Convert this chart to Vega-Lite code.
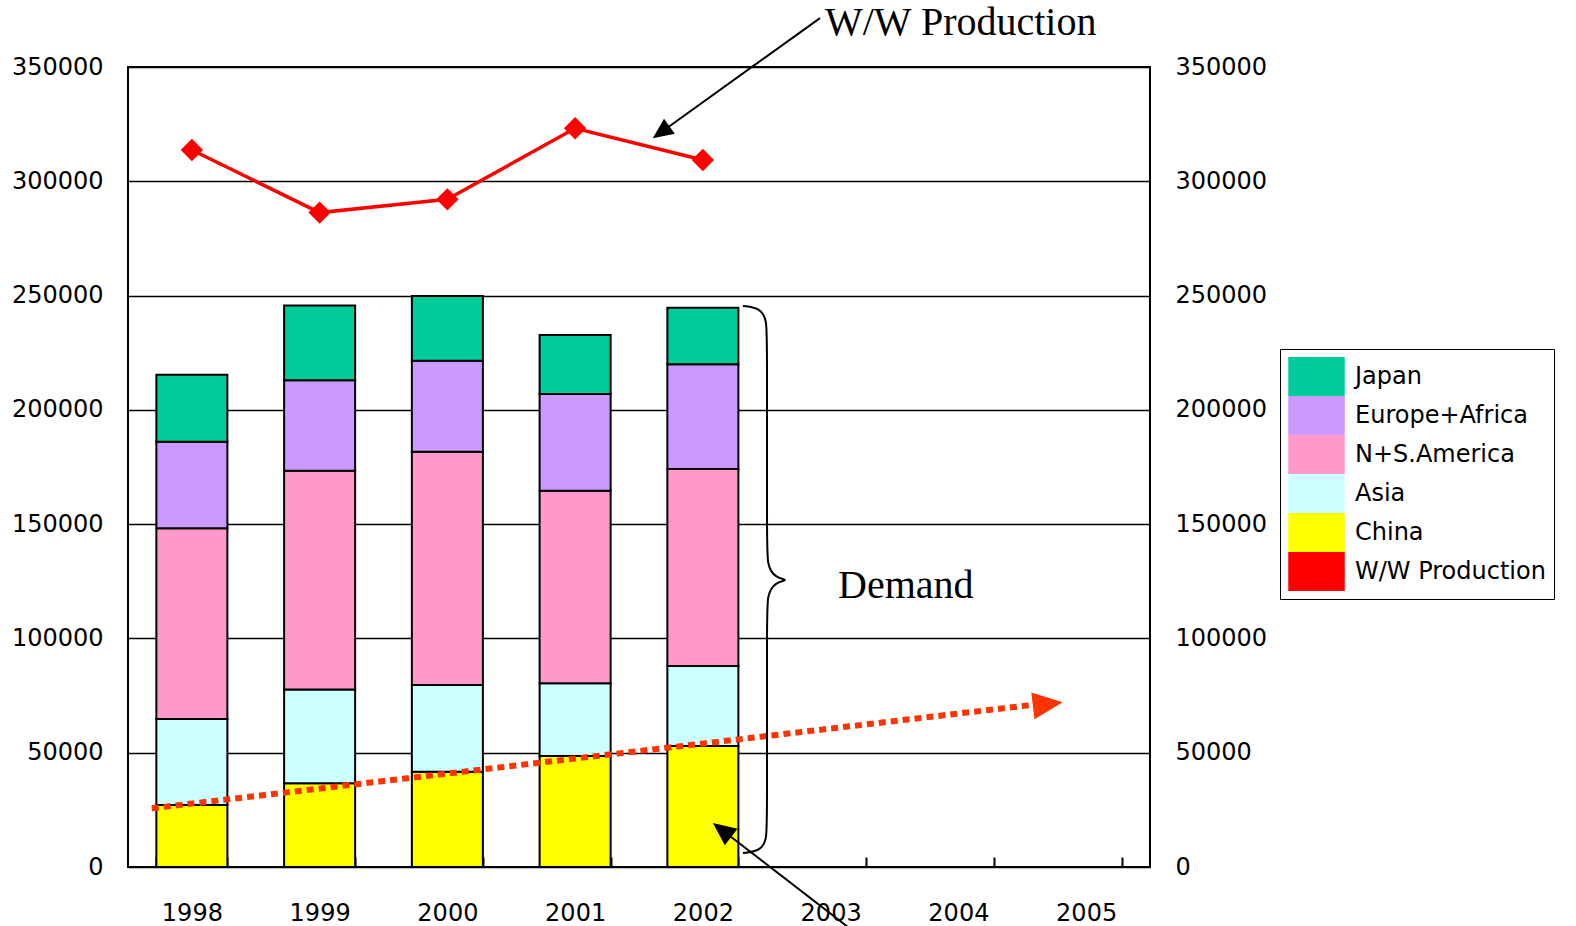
{
  "$schema": "https://vega.github.io/schema/vega-lite/v6.json",
  "width": 1022,
  "height": 800,
  "autosize": {"type": "none"},
  "padding": {"left": 128, "top": 67, "right": 426, "bottom": 59},
  "background": "white",
  "config": {
    "view": {"stroke": "#000000", "strokeWidth": 2},
    "font": "DejaVu Sans",
    "axis": {"labelFont": "DejaVu Sans", "labelFontSize": 24, "labelColor": "#000000"}
  },
  "datasets": {
    "demand": [
      {"year": "1998", "region": "China", "k": 1, "value": 27100},
      {"year": "1998", "region": "Asia", "k": 2, "value": 37700},
      {"year": "1998", "region": "N+S.America", "k": 3, "value": 83400},
      {"year": "1998", "region": "Europe+Africa", "k": 4, "value": 37900},
      {"year": "1998", "region": "Japan", "k": 5, "value": 29300},
      {"year": "1999", "region": "China", "k": 1, "value": 36600},
      {"year": "1999", "region": "Asia", "k": 2, "value": 41100},
      {"year": "1999", "region": "N+S.America", "k": 3, "value": 95700},
      {"year": "1999", "region": "Europe+Africa", "k": 4, "value": 39500},
      {"year": "1999", "region": "Japan", "k": 5, "value": 32800},
      {"year": "2000", "region": "China", "k": 1, "value": 41700},
      {"year": "2000", "region": "Asia", "k": 2, "value": 37900},
      {"year": "2000", "region": "N+S.America", "k": 3, "value": 102100},
      {"year": "2000", "region": "Europe+Africa", "k": 4, "value": 39800},
      {"year": "2000", "region": "Japan", "k": 5, "value": 28300},
      {"year": "2001", "region": "China", "k": 1, "value": 48600},
      {"year": "2001", "region": "Asia", "k": 2, "value": 31800},
      {"year": "2001", "region": "N+S.America", "k": 3, "value": 84200},
      {"year": "2001", "region": "Europe+Africa", "k": 4, "value": 42300},
      {"year": "2001", "region": "Japan", "k": 5, "value": 25900},
      {"year": "2002", "region": "China", "k": 1, "value": 52900},
      {"year": "2002", "region": "Asia", "k": 2, "value": 35000},
      {"year": "2002", "region": "N+S.America", "k": 3, "value": 86200},
      {"year": "2002", "region": "Europe+Africa", "k": 4, "value": 45800},
      {"year": "2002", "region": "Japan", "k": 5, "value": 24800}
    ],
    "production": [
      {"year": "1998", "series": "W/W Production", "value": 313700},
      {"year": "1999", "series": "W/W Production", "value": 286300},
      {"year": "2000", "series": "W/W Production", "value": 292100},
      {"year": "2001", "series": "W/W Production", "value": 323200},
      {"year": "2002", "series": "W/W Production", "value": 309300}
    ],
    "trend": [
      {"o": 1, "x": 1997.686, "y": 25700},
      {"o": 2, "x": 2004.574, "y": 70900}
    ],
    "arrowheads": [
      {"name": "trend", "x": 2004.700, "y": 71270, "angle": -6.7, "size": 900, "color": "#FF3300"},
      {"name": "top", "x": 2001.673, "y": 321475, "angle": 144.3, "size": 420, "color": "#000000"},
      {"name": "bottom", "x": 2002.150, "y": 16190, "angle": 217.5, "size": 530, "color": "#000000"}
    ],
    "pointers": [
      {"name": "top", "o": 1, "x": 2002.917, "y": 371400},
      {"name": "top", "o": 2, "x": 2001.673, "y": 321475},
      {"name": "bottom", "o": 1, "x": 2003.308, "y": -33690},
      {"name": "bottom", "o": 2, "x": 2002.150, "y": 16190}
    ],
    "brace": [
      {"o": 1, "x": 2002.314, "y": 245440},
      {"o": 2, "x": 2002.447, "y": 244565},
      {"o": 3, "x": 2002.502, "y": 239315},
      {"o": 4, "x": 2002.502, "y": 228380},
      {"o": 5, "x": 2002.502, "y": 143065},
      {"o": 6, "x": 2002.502, "y": 132126},
      {"o": 7, "x": 2002.564, "y": 126439},
      {"o": 8, "x": 2002.682, "y": 125564},
      {"o": 9, "x": 2002.564, "y": 124689},
      {"o": 10, "x": 2002.502, "y": 119001},
      {"o": 11, "x": 2002.502, "y": 108063},
      {"o": 12, "x": 2002.502, "y": 22750},
      {"o": 13, "x": 2002.502, "y": 11813},
      {"o": 14, "x": 2002.447, "y": 7000},
      {"o": 15, "x": 2002.314, "y": 6125}
    ],
    "labels": [
      {"text": "W/W Production", "x": 2002.956, "y": 364000},
      {"text": "Demand", "x": 2003.058, "y": 117690}
    ]
  },
  "resolve": {"scale": {"x": "independent", "y": "independent"}},
  "layer": [
    {
      "data": {"name": "demand"},
      "mark": {"type": "bar", "stroke": "#000000", "strokeWidth": 2},
      "encoding": {
        "x": {
          "field": "year", "type": "nominal",
          "scale": {"domain": ["1998", "1999", "2000", "2001", "2002", "2003", "2004", "2005"], "paddingInner": 0.444, "paddingOuter": 0.222},
          "axis": {"title": null, "labelAngle": 0, "tickBand": "extent", "ticks": true, "tickSize": -10, "tickColor": "#000000", "tickWidth": 2, "domain": false, "labelPadding": 44, "grid": false}
        },
        "y": {
          "field": "value", "type": "quantitative", "stack": "zero",
          "scale": {"domain": [0, 350000], "nice": false},
          "axis": {"title": null, "values": [0, 50000, 100000, 150000, 200000, 250000, 300000, 350000], "format": "d", "ticks": false, "domain": false, "labelPadding": 25, "grid": true, "gridColor": "#000000", "gridWidth": 1.5, "gridOpacity": 1}
        },
        "color": {
          "field": "region", "type": "nominal",
          "scale": {
            "domain": ["Japan", "Europe+Africa", "N+S.America", "Asia", "China", "W/W Production"],
            "range": ["#00CC99", "#CC99FF", "#FF99CC", "#CCFFFF", "#FFFF00", "#FF0000"]
          },
          "legend": {
            "title": null,
            "orient": "none",
            "legendX": 1152,
            "legendY": 282,
            "strokeColor": "#000000",
            "fillColor": "#FFFFFF",
            "padding": 8,
            "labelFont": "DejaVu Sans",
            "labelFontSize": 24,
            "labelColor": "#000000",
            "labelOffset": 10,
            "symbolSize": 3025,
            "clipHeight": 39,
            "rowPadding": 0,
            "labelLimit": 400
          }
        },
        "order": {"field": "k", "type": "quantitative"}
      }
    },
    {
      "data": {"name": "production"},
      "mark": {"type": "line", "strokeWidth": 3.5},
      "encoding": {
        "x": {"field": "year", "type": "nominal", "scale": {"type": "point", "padding": 0.5, "domain": ["1998", "1999", "2000", "2001", "2002", "2003", "2004", "2005"]}, "axis": null},
        "y": {
          "field": "value", "type": "quantitative",
          "scale": {"domain": [0, 350000], "nice": false},
          "axis": {"title": null, "orient": "right", "values": [0, 50000, 100000, 150000, 200000, 250000, 300000, 350000], "format": "d", "ticks": false, "domain": false, "labelPadding": 25, "grid": false}
        },
        "color": {"field": "series", "type": "nominal", "legend": null}
      }
    },
    {
      "data": {"name": "production"},
      "mark": {"type": "point", "shape": "diamond", "filled": true, "size": 500, "opacity": 1},
      "encoding": {
        "x": {"field": "year", "type": "nominal", "scale": {"type": "point", "padding": 0.5, "domain": ["1998", "1999", "2000", "2001", "2002", "2003", "2004", "2005"]}, "axis": null},
        "y": {"field": "value", "type": "quantitative", "scale": {"domain": [0, 350000], "nice": false}, "axis": null},
        "color": {"field": "series", "type": "nominal", "legend": null}
      }
    },
    {
      "data": {"name": "trend"},
      "mark": {"type": "line", "color": "#FF3300", "strokeWidth": 6, "strokeDash": [7, 5], "strokeCap": "butt", "clip": false},
      "encoding": {
        "x": {"field": "x", "type": "quantitative", "scale": {"domain": [1997.5, 2005.5], "nice": false, "zero": false}, "axis": null},
        "y": {"field": "y", "type": "quantitative", "scale": {"domain": [0, 350000], "nice": false}, "axis": null},
        "order": {"field": "o", "type": "quantitative"}
      }
    },
    {
      "data": {"name": "pointers"},
      "mark": {"type": "line", "color": "#000000", "strokeWidth": 2, "clip": false},
      "encoding": {
        "x": {"field": "x", "type": "quantitative", "scale": {"domain": [1997.5, 2005.5], "nice": false, "zero": false}, "axis": null},
        "y": {"field": "y", "type": "quantitative", "scale": {"domain": [0, 350000], "nice": false}, "axis": null},
        "detail": {"field": "name", "type": "nominal"},
        "order": {"field": "o", "type": "quantitative"}
      }
    },
    {
      "data": {"name": "brace"},
      "mark": {"type": "line", "color": "#000000", "strokeWidth": 2, "interpolate": "basis", "clip": false},
      "encoding": {
        "x": {"field": "x", "type": "quantitative", "scale": {"domain": [1997.5, 2005.5], "nice": false, "zero": false}, "axis": null},
        "y": {"field": "y", "type": "quantitative", "scale": {"domain": [0, 350000], "nice": false}, "axis": null},
        "order": {"field": "o", "type": "quantitative"}
      }
    },
    {
      "data": {"name": "arrowheads"},
      "mark": {"type": "point", "shape": "M-1,-0.9L1,0L-1,0.9Z", "filled": true, "opacity": 1, "clip": false},
      "encoding": {
        "x": {"field": "x", "type": "quantitative", "scale": {"domain": [1997.5, 2005.5], "nice": false, "zero": false}, "axis": null},
        "y": {"field": "y", "type": "quantitative", "scale": {"domain": [0, 350000], "nice": false}, "axis": null},
        "angle": {"field": "angle", "type": "quantitative", "scale": null},
        "size": {"field": "size", "type": "quantitative", "scale": null},
        "fill": {"field": "color", "type": "nominal", "scale": null}
      }
    },
    {
      "data": {"name": "labels"},
      "mark": {"type": "text", "font": "Liberation Serif", "fontSize": 40, "align": "left", "baseline": "alphabetic", "color": "#000000", "clip": false},
      "encoding": {
        "x": {"field": "x", "type": "quantitative", "scale": {"domain": [1997.5, 2005.5], "nice": false, "zero": false}, "axis": null},
        "y": {"field": "y", "type": "quantitative", "scale": {"domain": [0, 350000], "nice": false}, "axis": null},
        "text": {"field": "text"}
      }
    }
  ]
}
